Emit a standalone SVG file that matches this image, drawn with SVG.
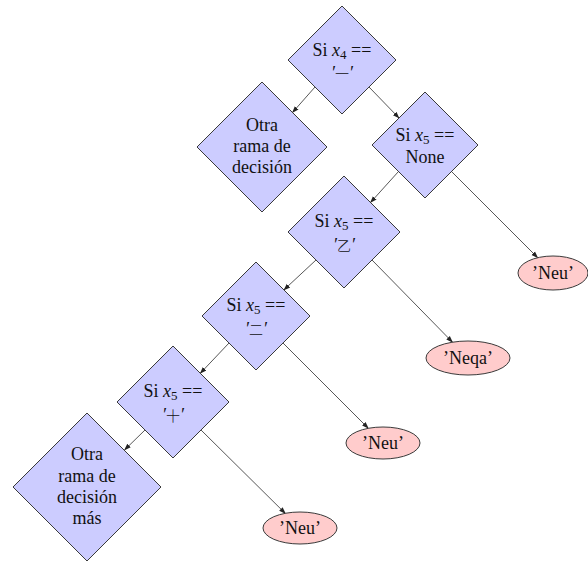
<svg xmlns="http://www.w3.org/2000/svg" width="588" height="568" viewBox="0 0 588 568">
<style>
.d{fill:#ccccff;stroke:#3a3a3a;stroke-width:1}
.e{fill:#ffcccc;stroke:#3a3a3a;stroke-width:1}
text{font-family:"Liberation Serif","Noto Sans CJK SC",serif;font-size:18px;fill:#111;text-anchor:middle}
.i{font-style:italic}
.s{font-size:13px}
.k{font-family:"Noto Sans CJK SC",sans-serif;font-weight:300;font-size:14px}
.c{stroke:#444;stroke-width:0.9;fill:none;marker-end:url(#a)}
</style>
<defs>
<marker id="a" viewBox="0 0 10 10" refX="9" refY="5" markerWidth="7" markerHeight="7" orient="auto" markerUnits="userSpaceOnUse">
<path d="M0,1.5 L10,5 L0,8.5 Z" fill="#222"/>
</marker>
</defs>
<g id="connectors">
<line class="c" x1="315" y1="87" x2="292.5" y2="112.5"/>
<line class="c" x1="369" y1="87" x2="399" y2="118"/>
<line class="c" x1="398.5" y1="171.5" x2="370.5" y2="202.5"/>
<line class="c" x1="451.5" y1="171.5" x2="537.7" y2="257.7"/>
<line class="c" x1="316" y1="260" x2="283.9" y2="289.9"/>
<line class="c" x1="372" y1="260" x2="452.5" y2="342.2"/>
<line class="c" x1="229" y1="343" x2="200.3" y2="373.3"/>
<line class="c" x1="283" y1="343" x2="368.3" y2="428.3"/>
<line class="c" x1="145" y1="430" x2="124.5" y2="450"/>
<line class="c" x1="201" y1="430" x2="285.4" y2="513.5"/>
</g>
<g id="n-top">
<polygon class="d" points="342,6 396,60 342,114 288,60"/>
<text x="342" y="56">Si <tspan class="i">x</tspan><tspan class="s" dy="3">4</tspan><tspan dy="-3"> ==</tspan></text>
<text x="342" y="79"><tspan class="i">′</tspan><tspan class="k">一</tspan><tspan class="i">′</tspan></text>
</g>
<g id="n-otra1">
<polygon class="d" points="262,82 327,147 262,212 197,147"/>
<text x="262" y="131">Otra</text>
<text x="262" y="152">rama de</text>
<text x="262" y="173">decisión</text>
</g>
<g id="n-none">
<polygon class="d" points="425,92 478,145 425,198 372,145"/>
<text x="425" y="141">Si <tspan class="i">x</tspan><tspan class="s" dy="3">5</tspan><tspan dy="-3"> ==</tspan></text>
<text x="425" y="163">None</text>
</g>
<g id="n-yi">
<polygon class="d" points="344,176 400,232 344,288 288,232"/>
<text x="344" y="227">Si <tspan class="i">x</tspan><tspan class="s" dy="3">5</tspan><tspan dy="-3"> ==</tspan></text>
<text x="344" y="251"><tspan class="i">′</tspan><tspan class="k">乙</tspan><tspan class="i">′</tspan></text>
</g>
<g id="n-er">
<polygon class="d" points="256,262 310,316 256,370 202,316"/>
<text x="256" y="311">Si <tspan class="i">x</tspan><tspan class="s" dy="3">5</tspan><tspan dy="-3"> ==</tspan></text>
<text x="256" y="335"><tspan class="i">′</tspan><tspan class="k">二</tspan><tspan class="i">′</tspan></text>
</g>
<g id="n-shi">
<polygon class="d" points="173,346 229,402 173,458 117,402"/>
<text x="173" y="397">Si <tspan class="i">x</tspan><tspan class="s" dy="3">5</tspan><tspan dy="-3"> ==</tspan></text>
<text x="173" y="421"><tspan class="i">′</tspan><tspan class="k">十</tspan><tspan class="i">′</tspan></text>
</g>
<g id="n-otra2">
<polygon class="d" points="87,413 161,487 87,561 13,487"/>
<text x="87" y="460">Otra</text>
<text x="87" y="482">rama de</text>
<text x="87" y="503">decisión</text>
<text x="87" y="524">más</text>
</g>
<g id="n-neu1">
<ellipse class="e" cx="553" cy="273" rx="35" ry="17"/>
<text x="553" y="279">’Neu’</text>
</g>
<g id="n-neqa">
<ellipse class="e" cx="468" cy="358" rx="42" ry="17"/>
<text x="468" y="364">’Neqa’</text>
</g>
<g id="n-neu2">
<ellipse class="e" cx="383" cy="443" rx="37" ry="16"/>
<text x="383" y="449">’Neu’</text>
</g>
<g id="n-neu3">
<ellipse class="e" cx="300" cy="528" rx="37" ry="16"/>
<text x="300" y="534">’Neu’</text>
</g>
</svg>
